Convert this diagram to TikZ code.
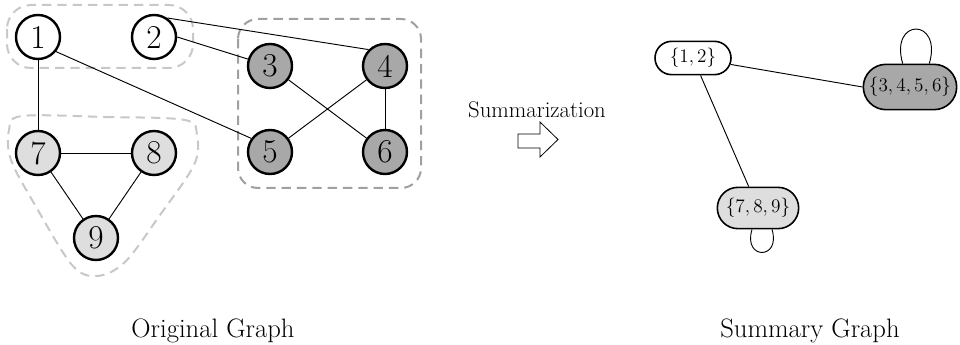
\documentclass[tikz,border=0pt]{standalone}
\usetikzlibrary{shapes.misc}
\definecolor{darkfill}{HTML}{A8A8A8}
\definecolor{lightfill}{HTML}{DEDEDE}
\definecolor{hulldark}{HTML}{A0A0A0}
\definecolor{hulllight}{HTML}{C8C8C8}
\begin{document}
\begin{tikzpicture}[x=0.75pt,y=-0.75pt,
  vertex/.style={circle, draw, line width=1.8pt, minimum size=33pt, inner sep=0pt,
                 font=\fontsize{25}{30}\selectfont},
  hullstroke/.style={line width=1.5pt, dash pattern=on 7pt off 4.5pt},
  link/.style={line width=0.7pt},
  super/.style={rounded rectangle, draw, line width=1.2pt, inner sep=0pt,
                font=\fontsize{14}{16}\selectfont},
  caption/.style={font=\fontsize{20}{24}\selectfont, anchor=base}]
\useasboundingbox (0,0) rectangle (960,345);

% groups of the original graph
\draw[hullstroke, draw=hulllight, rounded corners=18pt] (7,5) rectangle (193,68);
\draw[hullstroke, draw=hulldark, rounded corners=15pt] (238,19) rectangle (421,188);
\draw[hullstroke, draw=hulllight] plot[smooth cycle, tension=0.55] coordinates
  {(22,116) (105,117) (185,120) (197,136) (194,165) (160,215) (125,262)
   (97,276) (72,265) (35,205) (11,160) (9,130)};

% original graph
\node[vertex, fill=white]     (n1) at (38,37)  {1};
\node[vertex, fill=white]     (n2) at (154,37) {2};
\node[vertex, fill=darkfill]  (n3) at (270,66) {3};
\node[vertex, fill=darkfill]  (n4) at (385,66) {4};
\node[vertex, fill=darkfill]  (n5) at (270,152) {5};
\node[vertex, fill=darkfill]  (n6) at (385,152) {6};
\node[vertex, fill=lightfill] (n7) at (38,153) {7};
\node[vertex, fill=lightfill] (n8) at (154,153) {8};
\node[vertex, fill=lightfill] (n9) at (96,238) {9};

\draw[link] (n1) -- (n7);
\draw[link] (n1.-39) -- (n5.144);
\draw[link] (n2.east) -- (n3);
\draw[link] (n2.55) -- (n4.135);
\draw[link] (n3) -- (n6);
\draw[link] (n4) -- (n5);
\draw[link] (n4) -- (n6);
\draw[link] (n7) -- (n8);
\draw[link] (n7) -- (n9);
\draw[link] (n8) -- (n9);

% summarization step
\node[font=\fontsize{17}{20}\selectfont, anchor=base] (lbl) at (537,118) {Summarization};
\draw[line width=0.6pt, line join=miter]
  (518,134) -- (540,134) -- (540,122) -- (558,139.5) -- (540,157)
  -- (540,148) -- (518,148) -- cycle;

% summary graph
\node[super, fill=white, minimum width=57pt, minimum height=25pt]     (s1) at (693,58)  {$\{1,2\}$};
\node[super, fill=darkfill, minimum width=70pt, minimum height=34pt]  (s2) at (910,87)  {$\{3,4,5,6\}$};
\node[super, fill=lightfill, minimum width=61pt, minimum height=31pt] (s3) at (758,208) {$\{7,8,9\}$};

\draw[link] (s1) -- (s2.west);
\draw[link] (s1) -- (s3);
% self-loops
\draw[link] ([xshift=-5.5pt]s2.north) .. controls +(-10pt,34.5pt) and +(10pt,34.5pt) .. ([xshift=14.5pt]s2.north);
\draw[link] ([xshift=-4.5pt]s3.south) .. controls +(-7pt,-23pt) and +(7pt,-23pt) .. ([xshift=10.5pt]s3.south);

% captions
\node[caption] (capL) at (213,337) {Original Graph};
\node[caption] (capR) at (810,337) {Summary Graph};
\end{tikzpicture}
\end{document}
